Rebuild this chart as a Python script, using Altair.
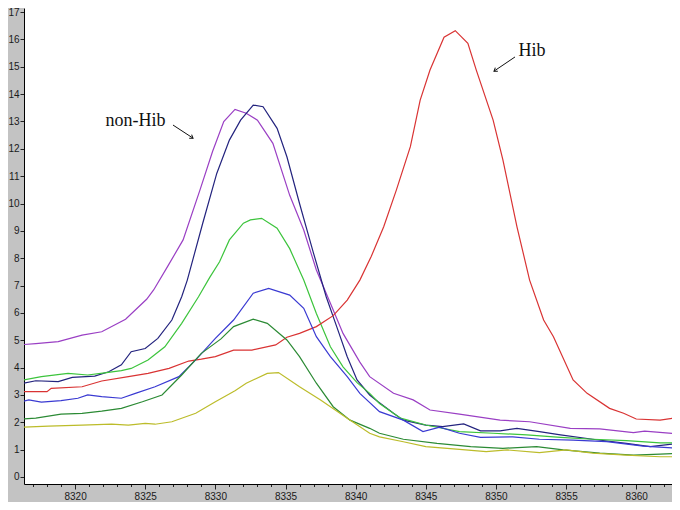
import altair as alt
import pandas as pd

# ---- data ----
purple_x = [8316, 8317.2, 8318.8, 8320.5, 8321.9, 8323.6, 8325.1, 8325.6, 8326.6, 8327.7, 8328.9, 8329.8,
            8330.6, 8331.4, 8332.2, 8333.0, 8334.1, 8335.3, 8336.3, 8337.2, 8338.2, 8339.1, 8340.3, 8341.0,
            8342.7, 8344.1, 8345.3, 8347.4, 8350.3, 8352.4, 8355.3, 8357.4, 8359.8, 8360.6, 8363.1]
purple_y = [4.83, 4.88, 4.95, 5.19, 5.31, 5.77, 6.5, 6.84, 7.7, 8.67, 10.49, 11.9,
            13.0, 13.44, 13.3, 13.05, 12.2, 10.3, 9.03, 7.57, 6.35, 5.25, 4.2, 3.67,
            3.06, 2.82, 2.45, 2.30, 2.08, 2.02, 1.78, 1.76, 1.62, 1.68, 1.57]

navy_x = [8316, 8317.2, 8318.8, 8319.8, 8321.4, 8322.4, 8323.3, 8324.0, 8325.0, 8325.9, 8326.9, 8327.6,
          8328.0, 8329.1, 8330.1, 8331.0, 8331.8, 8332.7, 8333.4, 8334.4, 8335.1, 8336.0, 8337.0, 8337.9,
          8338.65, 8339.4, 8340.1, 8341.0, 8341.6, 8342.7, 8343.4, 8345.0, 8346.2, 8347.7, 8348.9, 8350.3,
          8351.5, 8353.1, 8354.6, 8356.9, 8359.3, 8361.0, 8363.1]
navy_y = [3.40, 3.52, 3.49, 3.64, 3.69, 3.85, 4.10, 4.58, 4.70, 5.07, 5.74, 6.59,
          7.2, 9.28, 11.1, 12.32, 13.05, 13.6, 13.54, 12.75, 11.71, 10.0, 8.18, 6.59,
          5.5, 4.4, 3.55, 3.0, 2.75, 2.33, 2.08, 1.90, 1.84, 1.94, 1.69, 1.69,
          1.78, 1.66, 1.54, 1.38, 1.23, 1.11, 1.23]

lgreen_x = [8316, 8317.6, 8319.5, 8320.9, 8322.1, 8323.3, 8324.0, 8325.2, 8326.4, 8327.6, 8328.8, 8329.6,
            8330.3, 8331.0, 8332.0, 8332.5, 8333.3, 8334.4, 8335.3, 8336.3, 8337.2, 8338.2, 8339.1, 8340.1,
            8341.0, 8341.7, 8343.2, 8345.0, 8347.4, 8349.8, 8352.2, 8354.6, 8356.9, 8359.3, 8361.7, 8363.1]
lgreen_y = [3.52, 3.67, 3.79, 3.73, 3.81, 3.89, 3.97, 4.28, 4.76, 5.62, 6.59, 7.3,
            7.87, 8.67, 9.28, 9.4, 9.46, 9.1, 8.35, 7.2, 5.98, 4.76, 4.03, 3.45,
            3.06, 2.69, 2.15, 1.90, 1.66, 1.60, 1.54, 1.45, 1.38, 1.33, 1.25, 1.25]

red_x = [8316, 8318.0, 8318.3, 8320.5, 8321.9, 8323.8, 8325.2, 8326.7, 8328.1, 8329.0, 8330.0, 8331.3,
         8332.6, 8334.3, 8335.1, 8336.0, 8337.2, 8338.4, 8339.4, 8340.3, 8341.1, 8342.0, 8342.9, 8343.9,
         8344.6, 8345.3, 8346.3, 8347.1, 8348.0, 8348.6, 8349.8, 8350.5, 8351.5, 8352.4, 8353.4, 8354.1,
         8355.5, 8356.5, 8358.1, 8359.1, 8360.0, 8361.7, 8362.6, 8363.1]
red_y = [3.12, 3.12, 3.24, 3.30, 3.51, 3.67, 3.79, 3.97, 4.24, 4.31, 4.40, 4.64,
         4.64, 4.83, 5.11, 5.25, 5.5, 5.9, 6.47, 7.2, 8.05, 9.15, 10.49, 12.08,
         13.78, 14.88, 16.08, 16.32, 15.86, 14.88, 13.05, 11.59, 9.15, 7.2, 5.74, 5.13,
         3.55, 3.06, 2.51, 2.33, 2.12, 2.08, 2.15, 2.08]

blue_x = [8316, 8316.7, 8317.6, 8319.0, 8320.2, 8320.9, 8321.9, 8323.3, 8324.3, 8325.7, 8327.4, 8328.6,
          8330.0, 8331.3, 8332.7, 8333.8, 8335.3, 8336.3, 8337.2, 8338.2, 8339.4, 8340.3, 8341.7, 8343.4,
          8344.8, 8346.0, 8347.4, 8348.9, 8351.2, 8353.1, 8355.5, 8357.9, 8360.5, 8363.1]
blue_y = [2.72, 2.82, 2.74, 2.79, 2.88, 3.0, 2.94, 2.88, 3.06, 3.30, 3.67, 4.28,
          5.07, 5.74, 6.72, 6.9, 6.65, 6.17, 5.13, 4.4, 3.67, 3.06, 2.39, 2.08,
          1.66, 1.82, 1.60, 1.45, 1.47, 1.38, 1.35, 1.29, 1.13, 1.05]

dgreen_x = [8316, 8317.2, 8319.0, 8320.5, 8321.9, 8323.3, 8324.8, 8326.2, 8327.6, 8329.0, 8330.4, 8331.3,
            8332.7, 8333.7, 8335.1, 8336.0, 8337.2, 8338.4, 8339.6, 8341.0, 8341.7, 8343.4, 8345.8, 8348.2,
            8350.5, 8352.9, 8354.8, 8357.4, 8359.8, 8361.7, 8363.1]
dgreen_y = [2.12, 2.15, 2.30, 2.33, 2.41, 2.51, 2.75, 3.0, 3.73, 4.52, 5.05, 5.5,
            5.77, 5.62, 5.01, 4.4, 3.43, 2.57, 2.08, 1.78, 1.6, 1.38, 1.23, 1.11,
            1.05, 1.11, 0.99, 0.87, 0.80, 0.84, 0.87]

yellow_x = [8316, 8318.1, 8320.5, 8322.6, 8323.8, 8325.0, 8325.7, 8326.9, 8328.6, 8330.0, 8331.4, 8332.2,
            8333.7, 8334.5, 8336.0, 8337.5, 8339.4, 8341.0, 8341.7, 8343.4, 8345.0, 8347.4, 8349.3, 8350.8,
            8353.1, 8355.0, 8356.9, 8359.3, 8361.7, 8363.1]
yellow_y = [1.82, 1.86, 1.90, 1.93, 1.90, 1.96, 1.93, 2.02, 2.33, 2.75, 3.15, 3.43,
            3.79, 3.82, 3.30, 2.82, 2.15, 1.6, 1.47, 1.29, 1.11, 1.01, 0.93, 0.99,
            0.89, 0.99, 0.87, 0.80, 0.74, 0.74]

series_names = ["purple", "navy", "lgreen", "red", "blue", "dgreen", "yellow"]
series_colors = ["#9a3fc4", "#23237e", "#3cc43c", "#d93333", "#3a3ad2", "#2b8a34", "#bcbc2a"]
series_data = [(purple_x, purple_y), (navy_x, navy_y), (lgreen_x, lgreen_y), (red_x, red_y),
               (blue_x, blue_y), (dgreen_x, dgreen_y), (yellow_x, yellow_y)]

x_ticks = list(range(8316, 8363))
y_ticks = [i / 2 for i in range(0, 35)]

labels_text = ["non-Hib", "Hib"]
labels_x = [8324.31, 8352.57]
labels_y = [12.83, 15.39]

arrow_x1 = [8326.98, 8351.36]
arrow_y1 = [12.87, 15.36]
arrow_x2 = [8328.41, 8349.86]
arrow_y2 = [12.39, 14.84]
arrow_angle = [33, 146]

# ---- tables ----
rows = []
for name, (xs, ys) in zip(series_names, series_data):
    for xv, yv in zip(xs, ys):
        rows.append({"series": name, "x": xv, "y": yv})
df = pd.DataFrame(rows)

lab_df = pd.DataFrame({"text": labels_text, "x": labels_x, "y": labels_y})
arr_df = pd.DataFrame({"x": arrow_x1, "y": arrow_y1, "x2": arrow_x2, "y2": arrow_y2, "angle": arrow_angle})

xdom = [8316.36, 8362.55]
ydom = [-0.256, 17.15]
xscale = alt.Scale(domain=xdom, nice=False, zero=False)
yscale = alt.Scale(domain=ydom, nice=False, zero=False)

xaxis = alt.Axis(
    values=x_ticks, format="d",
    labelExpr="datum.value % 5 === 0 ? datum.label : ''",
    tickSize={"condition": {"test": "datum.value % 5 === 0", "value": 5}, "value": 2.5},
    title=None, grid=False, labelOverlap=False, labelFlush=False, labelPadding=2,
)
yaxis = alt.Axis(
    values=y_ticks, format="d",
    labelExpr="datum.value % 1 === 0 ? datum.label : ''",
    tickSize={"condition": {"test": "datum.value % 1 === 0", "value": 4}, "value": 2},
    title=None, grid=False, labelOverlap=False, labelFlush=False, labelPadding=1,
)

lines = alt.Chart(df).mark_line(strokeWidth=1.2, clip=True).encode(
    x=alt.X("x:Q", scale=xscale, axis=xaxis),
    y=alt.Y("y:Q", scale=yscale, axis=yaxis),
    color=alt.Color("series:N", scale=alt.Scale(domain=series_names, range=series_colors), legend=None),
    detail="series:N",
)

texts = alt.Chart(lab_df).mark_text(
    font="Liberation Serif", fontSize=18, color="#111111", align="center", baseline="alphabetic"
).encode(x=alt.X("x:Q", scale=xscale, axis=xaxis), y=alt.Y("y:Q", scale=yscale, axis=yaxis), text="text:N")

shafts = alt.Chart(arr_df).mark_rule(color="#111111", strokeWidth=1).encode(
    x=alt.X("x:Q", scale=xscale, axis=xaxis), y=alt.Y("y:Q", scale=yscale, axis=yaxis), x2="x2:Q", y2="y2:Q"
)

heads = alt.Chart(arr_df).mark_point(
    shape="M -1 -0.7 L 0 0 L -1 0.7", filled=False, color="#111111", strokeWidth=1, size=40, opacity=1
).encode(
    x=alt.X("x2:Q", scale=xscale, axis=xaxis), y=alt.Y("y2:Q", scale=yscale, axis=yaxis),
    angle=alt.Angle("angle:Q", scale=None)
)

chart = alt.layer(lines, shafts, heads, texts).properties(
    width=648, height=476,
    autosize=alt.AutoSizeParams(type="none"),
    padding={"left": 16, "top": 0, "right": 0, "bottom": 18},
    background="#c3c3c3",
).configure_view(
    fill="white", stroke=None
).configure_axis(
    domainColor="#000000", domainWidth=1, tickColor="#222222", tickWidth=1,
    labelFont="Liberation Sans", labelFontSize=10, labelColor="#1a1a1a",
    labelOverlap=False,
)

chart.save("out.html", embed_options={"renderer": "svg", "actions": False})
